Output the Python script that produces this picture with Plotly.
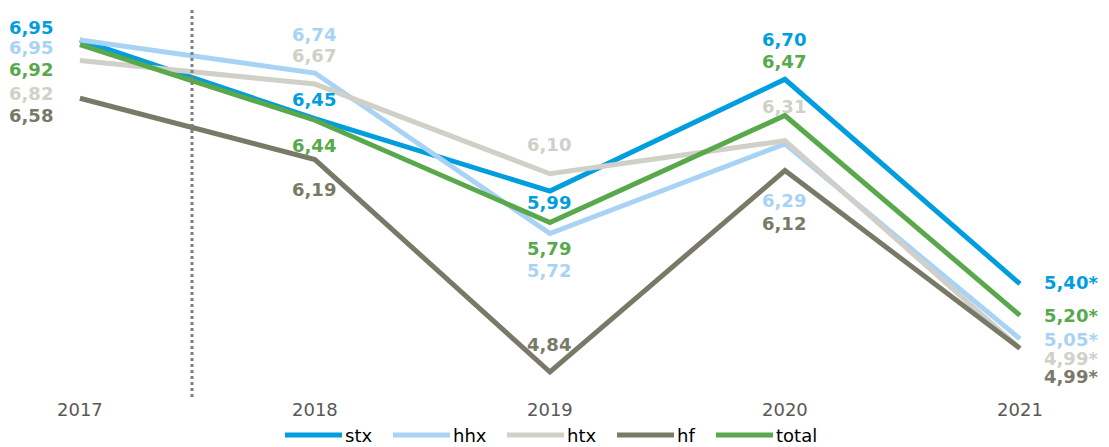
import plotly.graph_objects as go

# --- data -----------------------------------------------------------------
years = [2017, 2018, 2019, 2020, 2021]
series_names = ["stx", "hhx", "htx", "hf", "total"]
stx = [6.95, 6.45, 5.99, 6.70, 5.40]
hhx = [6.95, 6.74, 5.72, 6.29, 5.05]
htx = [6.82, 6.67, 6.10, 6.31, 4.99]
hf = [6.58, 6.19, 4.84, 6.12, 4.99]
total = [6.92, 6.44, 5.79, 6.47, 5.20]
estimated_year = 2021  # values for this year are marked with "*"

# --- styling --------------------------------------------------------------
colors = {
    "stx": "#009EDE",
    "hhx": "#A8D3F4",
    "htx": "#D1D0C8",
    "hf": "#7A7968",
    "total": "#59A84C",
}
values = {"stx": stx, "hhx": hhx, "htx": htx, "hf": hf, "total": total}

# vertical pixel offsets of each value label relative to its point
# (positive = up), one per year, so stacked labels do not collide
label_yshift = {
    "stx": [12, 19, -11, 40, 1],
    "hhx": [-8, 39, -37, -57, -1],
    "htx": [-33, 29, 29, 34, -10],
    "hf": [-17, -30, 27, -53, -28],
    "total": [-25, -25, -26, 54, 0],
}

W, H = 1109, 447
M_TOP, M_BOTTOM = 10, 50
plot_h = H - M_TOP - M_BOTTOM

font_family = "Verdana, DejaVu Sans, sans-serif"

fig = go.Figure()

for name in series_names:
    fig.add_trace(
        go.Scatter(
            x=years,
            y=values[name],
            mode="lines",
            name=name,
            line=dict(color=colors[name], width=5),
            hoverinfo="skip",
            showlegend=False,
        )
    )

# value labels
for name in series_names:
    for i, (yr, v) in enumerate(zip(years, values[name])):
        txt = f"{v:.2f}".replace(".", ",")
        if yr == estimated_year:
            txt += "*"
        if i == 0:
            xanchor, xshift = "right", -25
        elif i == len(years) - 1:
            xanchor, xshift = "left", 22
        else:
            xanchor, xshift = "center", -1
        fig.add_annotation(
            x=yr,
            y=v,
            xref="x",
            yref="y",
            text=txt,
            showarrow=False,
            xanchor=xanchor,
            yanchor="middle",
            xshift=xshift,
            yshift=label_yshift[name][i],
            font=dict(family=font_family, size=18, color=colors[name], weight="bold"),
        )

# dotted separator between 2017 and 2018
fig.add_shape(
    type="line",
    xref="x",
    yref="paper",
    x0=2017.477,
    x1=2017.477,
    y0=0,
    y1=1,
    line=dict(color="#7F7F7F", width=3, dash="dot"),
)

# legend row below the axis: a long line key followed by the series name
legend_x_px = [285, 393, 507, 617, 716]
legend_key_len = 57
legend_y = (H - M_BOTTOM - 435) / plot_h
for name, x0 in zip(series_names, legend_x_px):
    fig.add_shape(
        type="line",
        xref="paper",
        yref="paper",
        x0=x0 / W,
        x1=(x0 + legend_key_len) / W,
        y0=legend_y,
        y1=legend_y,
        line=dict(color=colors[name], width=5),
    )
    fig.add_annotation(
        x=(x0 + legend_key_len + 1) / W,
        y=legend_y,
        xref="paper",
        yref="paper",
        text=name,
        showarrow=False,
        xanchor="left",
        yanchor="middle",
        font=dict(family=font_family, size=18, color="#000000"),
    )

fig.update_layout(
    width=W,
    height=H,
    margin=dict(l=0, r=0, t=M_TOP, b=M_BOTTOM, autoexpand=False),
    paper_bgcolor="white",
    plot_bgcolor="white",
    showlegend=False,
    xaxis=dict(
        range=[2016.66, 2021.379],
        tickvals=years,
        ticktext=[str(y) for y in years],
        showgrid=False,
        zeroline=False,
        showline=False,
        ticks="",
        tickfont=dict(family=font_family, size=18, color="#595959"),
        fixedrange=True,
    ),
    yaxis=dict(
        range=[4.681, 7.1406],
        visible=False,
        showgrid=False,
        zeroline=False,
        fixedrange=True,
    ),
)

fig.write_html("out.html")
